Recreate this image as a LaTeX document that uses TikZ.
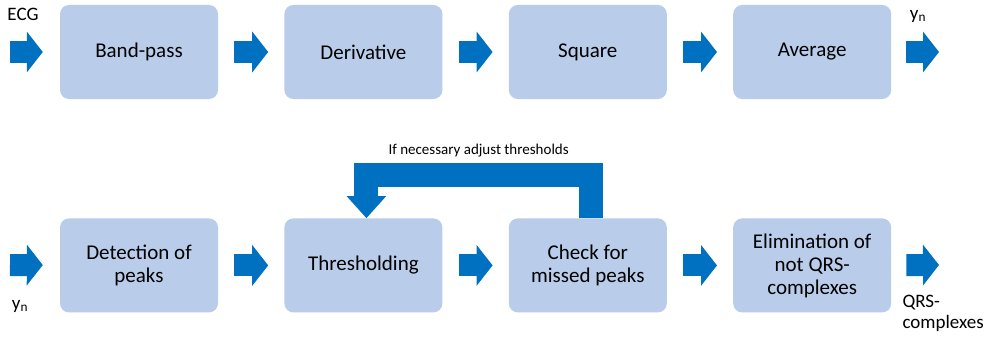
\documentclass[tikz,border=0pt]{standalone}
\usepackage{fontspec}
\setmainfont{Carlito}
\usetikzlibrary{arrows.meta,positioning}
\definecolor{boxblue}{RGB}{185,205,234}
\definecolor{arrowblue}{RGB}{0,112,192}

\begin{document}
\begin{tikzpicture}[x=1pt, y=1pt, node distance=66pt,
  box/.style={rectangle, rounded corners=9pt, fill=boxblue, minimum width=158pt,
    minimum height=94pt, align=center, font=\fontsize{21}{23}\selectfont},
  flow/.style={draw=arrowblue, line width=22pt, -{Triangle[width=40pt,length=16pt]},
    shorten <=16pt, shorten >=16pt},
  feedback/.style={draw=arrowblue, line width=24pt, line join=miter,
    -{Triangle[width=38pt,length=22pt]}},
  tag/.style={font=\fontsize{19}{21}\selectfont, align=left}]
  \useasboundingbox (0,0) rectangle (990,-337);

  \node[box] (BandPass) at (139,-52) {Band-pass};
  \node[box] (Derivative) [right=of BandPass] {Derivative};
  \node[box] (Square) [right=of Derivative] {Square};
  \node[box] (Average) [right=of Square] {Average};

  \node[box] (Detection) [below=119pt of BandPass] {Detection of\\peaks};
  \node[box] (Thresholding) [right=of Detection] {Thresholding};
  \node[box] (Check) [right=of Thresholding] {Check for\\missed peaks};
  \node[box] (Elimination) [right=of Check] {Elimination of\\not QRS-\\complexes};

  \coordinate (ECG) at (10,-52);
  \coordinate (Out) at (939,-52);
  \coordinate (In) at (10,-265);
  \coordinate (QRS) at (939,-265);

  \path (ECG) edge [flow, shorten <=0pt, shorten >=17pt] (BandPass)
        (BandPass) edge [flow] (Derivative)
        (Derivative) edge [flow] (Square)
        (Square) edge [flow] (Average)
        (Average) edge [flow, shorten <=15pt, shorten >=0pt] (Out);

  \path (In) edge [flow, shorten <=0pt, shorten >=17pt] (Detection)
        (Detection) edge [flow] (Thresholding)
        (Thresholding) edge [flow] (Check)
        (Check) edge [flow] (Elimination)
        (Elimination) edge [flow, shorten <=15pt, shorten >=0pt] (QRS);

  % loop back from the check to the thresholds
  \draw[feedback] ([xshift=3pt]Check.north) -- ++(0,43.5)
    -| node[pos=0.25, above=2pt, font=\fontsize{15}{17}\selectfont] {If necessary adjust thresholds}
    ([xshift=3pt]Thresholding.north);

  \node[tag] (ECGlabel) at (23,-14) {ECG};
  \node[tag] (YnTop) at (918,-16) {y\textsubscript{n}};
  \node[tag] (YnBottom) at (20,-306) {y\textsubscript{n}};
  \node[tag, anchor=north west] (QRSlabel) at (899,-292) {QRS-\\complexes};
\end{tikzpicture}
\end{document}
